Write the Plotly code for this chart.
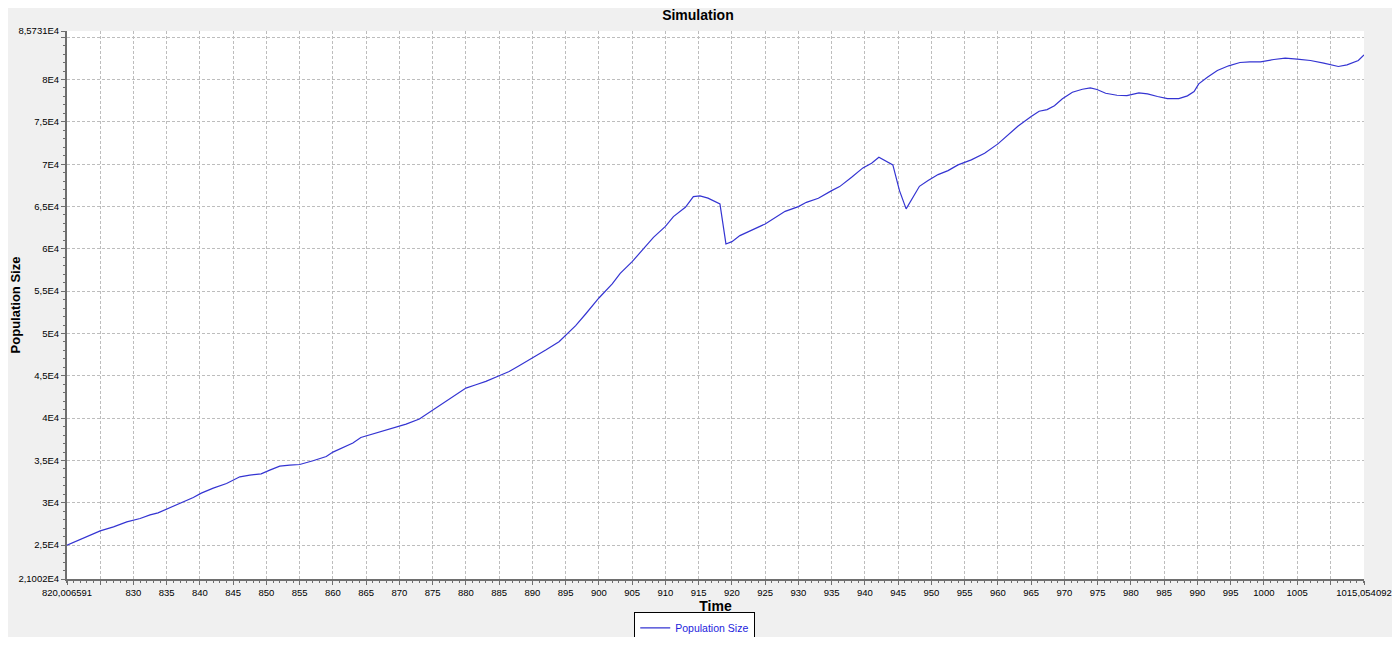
import plotly.graph_objects as go

# ========== DATA ==========
time_vals = [
    820.006591, 822.2, 825, 827, 829, 831, 832.5, 833.7, 835.5, 836.7, 838, 839, 840.2, 842, 844, 845,
    846, 847.5, 849.2, 850.5, 852, 853.5, 855, 857, 859, 860, 861.5, 863, 864.2, 866, 867.5, 869.5,
    871, 873, 874.5, 877, 880, 881.5, 883, 885, 886.5, 888, 890, 892, 894, 895, 896.5, 898,
    900, 902, 903.2, 905, 906.7, 908.2, 910, 911.2, 913, 914.2, 915.2, 916.4, 918.2, 919.1, 920, 921.2,
    922.5, 924, 925, 928, 930, 931.2, 933, 935, 936.2, 938, 939.7, 941, 942.1, 944.2, 945.2, 946.2,
    947.2, 948.2, 949.5, 951, 952.5, 954, 956, 958, 960, 961.5, 963, 965, 966.2, 967.4, 968.5, 969.7,
    971.2, 972.7, 973.9, 974.9, 976.2, 977.9, 979.4, 981.2, 982.5, 984, 985.5, 987.2, 988.5, 989.5, 990.2, 991.5,
    993, 994.7, 996.4, 997.9, 999.5, 1001.5, 1003.2, 1005, 1007, 1009, 1011.2, 1012.5, 1014.2, 1015.054092,
]
population = [
    25000, 25709, 26690, 27163, 27754, 28144, 28582, 28818, 29445, 29846, 30319, 30626, 31146, 31737, 32281, 32683,
    33073, 33274, 33428, 33865, 34338, 34456, 34527, 34964, 35473, 35993, 36537, 37057, 37718, 38120, 38510, 38900,
    39303, 39894, 40673, 41974, 43556, 43950, 44340, 45013, 45520, 46193, 47103, 48049, 49030, 49739, 50921, 52304,
    54196, 55851, 57104, 58486, 59987, 61359, 62659, 63805, 64905, 66169, 66252, 65991, 65307, 60579, 60851, 61560,
    62033, 62541, 62942, 64432, 64987, 65496, 65968, 66878, 67351, 68452, 69563, 70107, 70816, 69917, 66878, 64715,
    66086, 67387, 68060, 68770, 69242, 69917, 70508, 71288, 72399, 73498, 74479, 75626, 76252, 76450, 76900, 77718,
    78498, 78853, 79019, 78818, 78380, 78144, 78108, 78428, 78309, 77990, 77753, 77753, 78073, 78581, 79491, 80272,
    81064, 81620, 82010, 82093, 82093, 82365, 82518, 82400, 82246, 81927, 81537, 81738, 82246, 82920,
]

x_min, x_max = 820.006591, 1015.054092
y_min, y_max = 21002, 85731

x_tickvals = [x_min] + list(range(825, 1015, 5)) + [x_max]
x_ticktext = ['820,006591'] + ['' if v in (825, 1010) else str(v) for v in range(825, 1015, 5)] + ['1015,054092']

y_tickvals = [y_min, 25000, 30000, 35000, 40000, 45000, 50000, 55000, 60000, 65000, 70000, 75000, 80000, 85000, y_max]
y_ticktext = ['2,1002E4', '2,5E4', '3E4', '3,5E4', '4E4', '4,5E4', '5E4', '5,5E4', '6E4', '6,5E4',
              '7E4', '7,5E4', '8E4', '', '8,5731E4']

# ========== PLOT ==========
font_family = 'Liberation Sans, Arial, sans-serif'

fig = go.Figure()
fig.add_trace(go.Scatter(
    x=time_vals, y=population, mode='lines', name='Population Size',
    line=dict(color='#3434d2', width=1.2),
))

axis_common = dict(
    showgrid=True, gridcolor='#bdbdbd', griddash='3px,2px', gridwidth=1,
    showline=True, linecolor='#6e6e6e', linewidth=2,
    ticks='outside', ticklen=4, tickcolor='#6e6e6e',
    tickfont=dict(family=font_family, size=9.5, color='black'),
    zeroline=False, tickmode='array', automargin=False,
    ticklabeloverflow='allow',
)

fig.update_xaxes(
    range=[x_min, x_max], tickvals=x_tickvals, ticktext=x_ticktext,
    title=dict(text='<b>Time</b>', font=dict(family=font_family, size=14, color='black'), standoff=0),
    minor=dict(ticks='outside', ticklen=2, tickcolor='#6e6e6e', dtick=1, tick0=820, showgrid=False),
    **axis_common
)
fig.update_yaxes(
    range=[y_min, y_max], tickvals=y_tickvals, ticktext=y_ticktext,
    title=dict(text='<b>Population Size</b>', font=dict(family=font_family, size=13, color='black'), standoff=2),
    minor=dict(ticks='outside', ticklen=2, tickcolor='#6e6e6e', dtick=1000, tick0=20000, showgrid=False),
    **axis_common
)

# page body has an 8px margin; figure sized so the page does not overflow the window
fig.update_layout(
    width=1384, height=629,
    margin=dict(l=59, r=28, t=23, b=58, autoexpand=False),
    paper_bgcolor='#f0f0f0', plot_bgcolor='white',
    title=dict(text='<b>Simulation</b>', x=0.4985, xanchor='center', y=0.988, yanchor='middle',
               font=dict(family=font_family, size=14, color='black')),
    showlegend=True,
    legend=dict(
        orientation='h', x=0.484, xanchor='center', y=-0.061, yanchor='top',
        bgcolor='white', bordercolor='black', borderwidth=1,
        font=dict(family=font_family, size=10.5, color='#2323dc'),
        itemwidth=30,
    ),
)

fig.write_html('out.html')
